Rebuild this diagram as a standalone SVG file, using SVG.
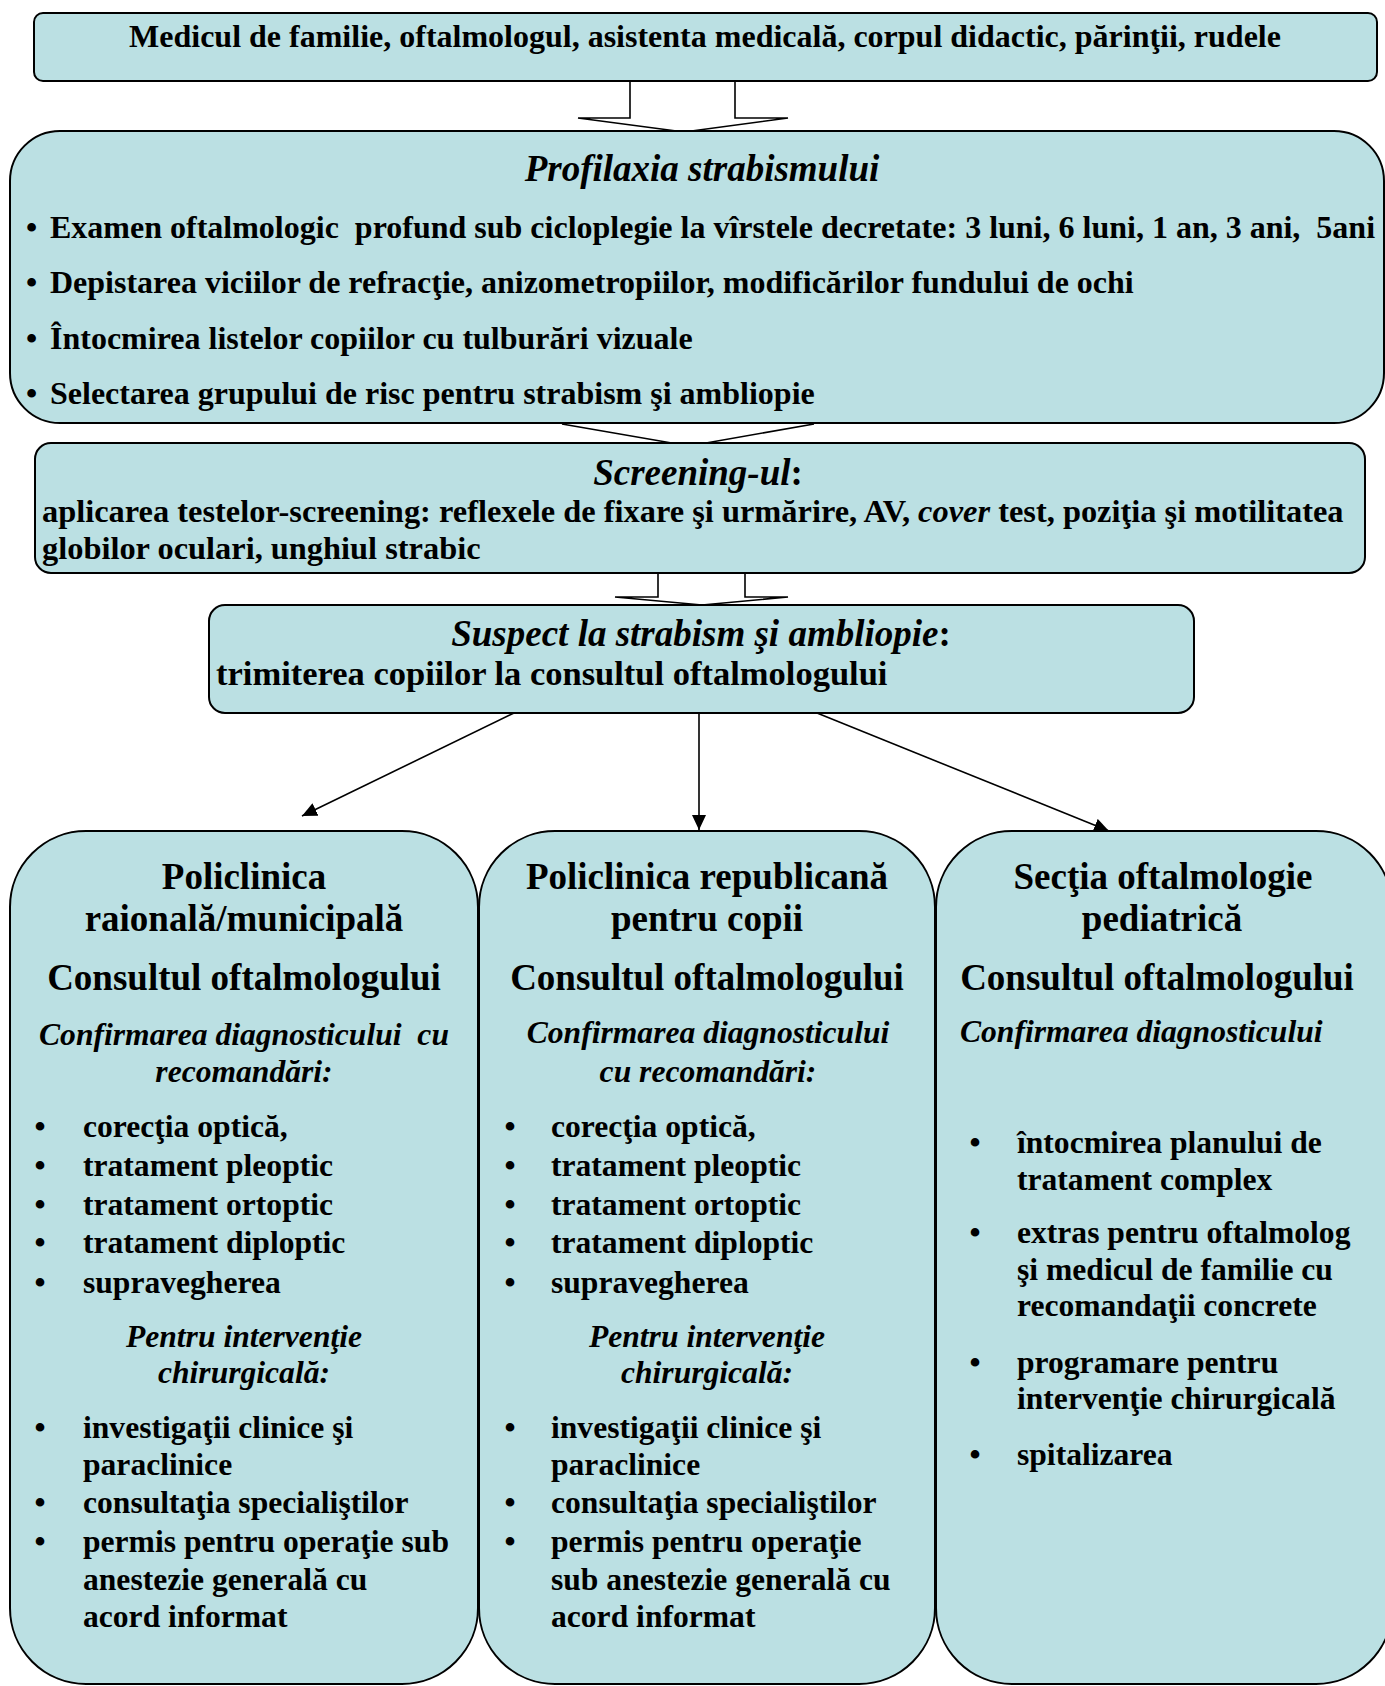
<svg xmlns="http://www.w3.org/2000/svg" width="1385" height="1686" viewBox="0 0 1385 1686">
<style>
.box{fill:#BBE0E3;stroke:#000;stroke-width:2}
.blk{fill:#fff;stroke:#000;stroke-width:1.6}
.ln{fill:none;stroke:#000;stroke-width:1.6}
text{font-family:"Liberation Serif","Times New Roman",serif;font-weight:bold;fill:#000}
.t37{font-size:37px}
.t32{font-size:32px}
.t34{font-size:34.5px}
.h{font-size:37px}
.s{font-size:31.6px}
.i{font-style:italic}
.c{text-anchor:middle}
</style>
<defs>
<marker id="ah" markerUnits="userSpaceOnUse" markerWidth="16" markerHeight="14" refX="15" refY="7" orient="auto">
<path d="M0,0 L15,7 L0,14 z" fill="#000"/>
</marker>
</defs>
<rect width="1385" height="1686" fill="#fff"/>
<g id="connectors">
<polygon class="blk" points="630,81 630,118 578,118 684,132 788,118 735,118 735,81"/>
<polyline class="ln" points="562,424 689,446 814,424"/>
<polygon class="blk" points="658,573 658,597 615,597 702,605 788,597 745,597 745,573"/>
<line class="ln" x1="514" y1="713" x2="302" y2="816" marker-end="url(#ah)"/>
<line class="ln" x1="699" y1="713" x2="699" y2="830" marker-end="url(#ah)"/>
<line class="ln" x1="817" y1="713" x2="1109" y2="831" marker-end="url(#ah)"/>
</g>
<g id="node-actors">
<rect class="box" x="34" y="13" width="1343" height="68" rx="9"/>
<text class="t32 c" x="705" y="47">Medicul de familie, oftalmologul, asistenta medicală, corpul didactic, părinţii, rudele</text>
</g>
<g id="node-profilaxia">
<rect class="box" x="10" y="131" width="1374" height="292" rx="50"/>
<text class="t37 c i" x="702" y="181">Profilaxia strabismului</text>
<text class="t32" x="26" y="238">•</text>
<text class="t32" x="50" y="238" xml:space="preserve">Examen oftalmologic  profund sub cicloplegie la vîrstele decretate: 3 luni, 6 luni, 1 an, 3 ani,  5ani</text>
<text class="t32" x="26" y="293">•</text>
<text class="t32" x="50" y="293">Depistarea viciilor de refracţie, anizometropiilor, modificărilor fundului de ochi</text>
<text class="t32" x="26" y="349">•</text>
<text class="t32" x="50" y="349">Întocmirea listelor copiilor cu tulburări vizuale</text>
<text class="t32" x="26" y="404">•</text>
<text class="t32" x="50" y="404">Selectarea grupului de risc pentru strabism şi ambliopie</text>
</g>
<g id="node-screening">
<rect class="box" x="35" y="443" width="1330" height="130" rx="16"/>
<text class="t37 c" x="698" y="485"><tspan class="i">Screening-ul</tspan>:</text>
<text class="t32" x="42" y="522" style="font-size:32.4px">aplicarea testelor-screening: reflexele de fixare şi urmărire, AV, <tspan class="i">cover</tspan> test, poziţia şi motilitatea</text>
<text class="t32" x="42" y="559" style="font-size:32.4px">globilor oculari, unghiul strabic</text>
</g>
<g id="node-suspect">
<rect class="box" x="209" y="605" width="985" height="108" rx="16"/>
<text class="t37 c" x="701" y="646"><tspan class="i">Suspect la strabism şi ambliopie</tspan>:</text>
<text class="t34" x="216" y="685">trimiterea copiilor la consultul oftalmologului</text>
</g>
<g id="node-raionala">
<rect class="box" x="10" y="831" width="468" height="853" rx="76"/>
<text class="h c" x="244" y="889">Policlinica</text>
<text class="h c" x="244" y="931">raională/municipală</text>
<text class="h c" x="244" y="990">Consultul oftalmologului</text>
<text class="s c i" x="244" y="1045" xml:space="preserve">Confirmarea diagnosticului  cu</text>
<text class="s c i" x="244" y="1082">recomandări:</text>
<text class="s c" x="40" y="1137">•</text><text class="s" x="83" y="1137">corecţia optică,</text>
<text class="s c" x="40" y="1176">•</text><text class="s" x="83" y="1176">tratament pleoptic</text>
<text class="s c" x="40" y="1215">•</text><text class="s" x="83" y="1215">tratament ortoptic</text>
<text class="s c" x="40" y="1253">•</text><text class="s" x="83" y="1253">tratament diploptic</text>
<text class="s c" x="40" y="1293">•</text><text class="s" x="83" y="1293">supravegherea</text>
<text class="s c i" x="244" y="1347">Pentru intervenţie</text>
<text class="s c i" x="244" y="1383">chirurgicală:</text>
<text class="s c" x="40" y="1438">•</text><text class="s" x="83" y="1438">investigaţii clinice şi</text>
<text class="s" x="83" y="1475">paraclinice</text>
<text class="s c" x="40" y="1513">•</text><text class="s" x="83" y="1513">consultaţia specialiştilor</text>
<text class="s c" x="40" y="1552">•</text><text class="s" x="83" y="1552">permis pentru operaţie sub</text>
<text class="s" x="83" y="1590">anestezie generală cu</text>
<text class="s" x="83" y="1627">acord informat</text>
</g>
<g id="node-republicana">
<rect class="box" x="479" y="831" width="456" height="853" rx="76"/>
<text class="h c" x="707" y="889">Policlinica republicană</text>
<text class="h c" x="707" y="931">pentru copii</text>
<text class="h c" x="707" y="990">Consultul oftalmologului</text>
<text class="s c i" x="708" y="1043">Confirmarea diagnosticului</text>
<text class="s c i" x="708" y="1082">cu recomandări:</text>
<text class="s c" x="510" y="1137">•</text><text class="s" x="551" y="1137">corecţia optică,</text>
<text class="s c" x="510" y="1176">•</text><text class="s" x="551" y="1176">tratament pleoptic</text>
<text class="s c" x="510" y="1215">•</text><text class="s" x="551" y="1215">tratament ortoptic</text>
<text class="s c" x="510" y="1253">•</text><text class="s" x="551" y="1253">tratament diploptic</text>
<text class="s c" x="510" y="1293">•</text><text class="s" x="551" y="1293">supravegherea</text>
<text class="s c i" x="707" y="1347">Pentru intervenţie</text>
<text class="s c i" x="707" y="1383">chirurgicală:</text>
<text class="s c" x="510" y="1438">•</text><text class="s" x="551" y="1438">investigaţii clinice şi</text>
<text class="s" x="551" y="1475">paraclinice</text>
<text class="s c" x="510" y="1513">•</text><text class="s" x="551" y="1513">consultaţia specialiştilor</text>
<text class="s c" x="510" y="1552">•</text><text class="s" x="551" y="1552">permis pentru operaţie</text>
<text class="s" x="551" y="1590">sub anestezie generală cu</text>
<text class="s" x="551" y="1627">acord informat</text>
</g>
<g id="node-sectia">
<rect class="box" x="936" y="831" width="456" height="853" rx="76"/>
<text class="h c" x="1163" y="889">Secţia oftalmologie</text>
<text class="h c" x="1162" y="931">pediatrică</text>
<text class="h c" x="1157" y="990">Consultul oftalmologului</text>
<text class="s i" x="960" y="1042">Confirmarea diagnosticului</text>
<text class="s c" x="975" y="1153">•</text><text class="s" x="1017" y="1153">întocmirea planului de</text>
<text class="s" x="1017" y="1190">tratament complex</text>
<text class="s c" x="975" y="1243">•</text><text class="s" x="1017" y="1243">extras pentru oftalmolog</text>
<text class="s" x="1017" y="1280">şi medicul de familie cu</text>
<text class="s" x="1017" y="1316">recomandaţii concrete</text>
<text class="s c" x="975" y="1373">•</text><text class="s" x="1017" y="1373">programare pentru</text>
<text class="s" x="1017" y="1409">intervenţie chirurgicală</text>
<text class="s c" x="975" y="1465">•</text><text class="s" x="1017" y="1465">spitalizarea</text>
</g>
</svg>
